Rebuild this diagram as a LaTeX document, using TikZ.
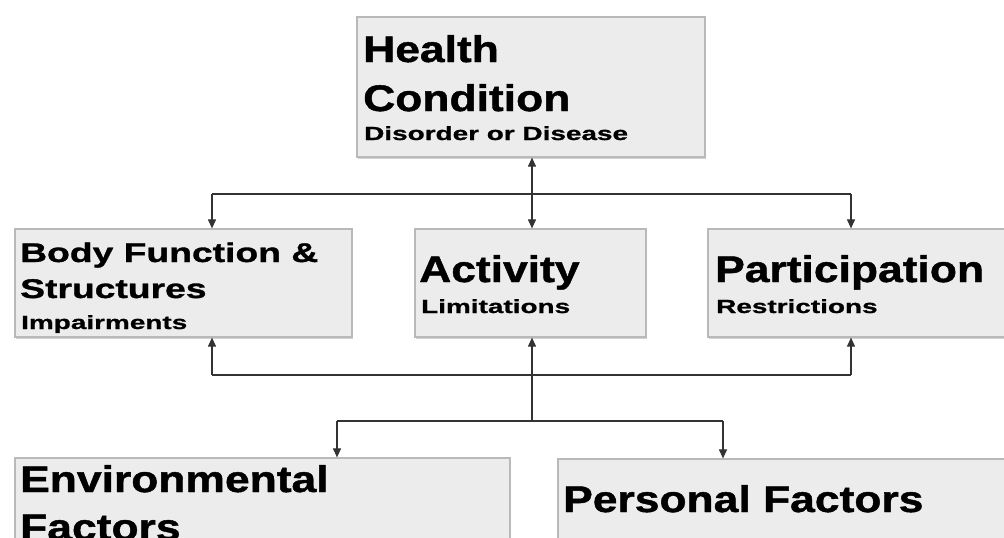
\documentclass[tikz,border=0pt]{standalone}
\usepackage{fontspec}
\setmainfont{Liberation Sans}
\newfontfamily\bigfont{Liberation Sans}[FakeStretch=1.2, FakeBold=1.2]
\newfontfamily\midfont{Liberation Sans}[FakeStretch=1.38, FakeBold=1.2]
\newfontfamily\smallfont{Liberation Sans}[FakeStretch=1.47, FakeBold=1.0]
\usetikzlibrary{arrows.meta,shadows}
\definecolor{boxfill}{HTML}{ECECEC}
\definecolor{linec}{HTML}{333333}
\tikzset{
  box/.style={draw=gray!55, line width=1.2pt, fill=boxfill, inner sep=0pt, rectangle,
    drop shadow={shadow xshift=1.2pt, shadow yshift=-1.5pt, fill=gray!45, opacity=0.8}},
  ttl/.style={anchor=base west, inner sep=0pt, font=\bigfont\bfseries\fontsize{37}{37}\selectfont},
  mtl/.style={anchor=base west, inner sep=0pt, font=\midfont\bfseries\fontsize{27}{27}\selectfont},
  sub/.style={anchor=base west, inner sep=0pt, font=\smallfont\bfseries\fontsize{19}{19}\selectfont},
  conn/.style={draw=linec, line width=1.1pt},
  tip/.tip={Triangle[length=9pt,width=8pt]},
  arr/.style={conn, -tip},
}
\begin{document}
\begin{tikzpicture}[x=1pt,y=-1pt]
\useasboundingbox (0,0) rectangle (1004,538);
\clip (0,0) rectangle (1004,538);
% boxes
\node[box, minimum width=348pt, minimum height=140pt] (health) at (531,87) {};
\node[box, minimum width=337pt, minimum height=108pt] (body) at (183.5,283) {};
\node[box, minimum width=231pt, minimum height=108pt] (act) at (530.5,283) {};
\node[box, minimum width=322pt, minimum height=108pt] (part) at (869,283) {};
\node[box, minimum width=495pt, minimum height=122pt] (env) at (262.5,519) {};
\node[box, minimum width=472pt, minimum height=121pt] (pers) at (794,519.5) {};
% junction coordinates
\coordinate (topL) at (212,194);
\coordinate (topM) at (532,194);
\coordinate (topR) at (851,194);
\coordinate (botL) at (212,375);
\coordinate (botR) at (851,375);
\coordinate (lowM) at (532,421);
\coordinate (lowL) at (337,421);
\coordinate (lowR) at (723,421);
% texts
\node[ttl] (t1) at (363,62) {Health};
\node[ttl] (t2) at (363,111) {Condition};
\node[sub] (t3) at (364,140) {Disorder or Disease};
\node[mtl] (t4) at (20,262) {Body Function \&};
\node[mtl] (t5) at (20,298) {Structures};
\node[sub] (t6) at (21,329) {Impairments};
\node[ttl] (t7) at (419,282) {Activity};
\node[sub] (t8) at (421,313) {Limitations};
\node[ttl] (t9) at (715,282) {Participation};
\node[sub] (t10) at (716,313) {Restrictions};
\node[ttl] (t11) at (20,492) {Environmental};
\node[ttl] (t12) at (20,540) {Factors};
\node[ttl] (t13) at (563,512) {Personal Factors};
% connectors
\draw[conn] (topL) -- (topR);
\draw[arr] (topL) -- (topL |- body.north);
\draw[arr] (topR) -- (topR |- part.north);
\draw[conn, tip-tip] (topM |- health.south) -- (topM |- act.north);
\draw[conn] (botL) -- (botR);
\draw[arr] (botL) -- (botL |- body.south);
\draw[arr] (botR) -- (botR |- part.south);
\draw[arr] (lowM) -- (lowM |- act.south);
\draw[conn] (lowL) -- (lowR);
\draw[arr] (lowL) -- (lowL |- env.north);
\draw[arr] (lowR) -- (lowR |- pers.north);
\end{tikzpicture}
\end{document}
